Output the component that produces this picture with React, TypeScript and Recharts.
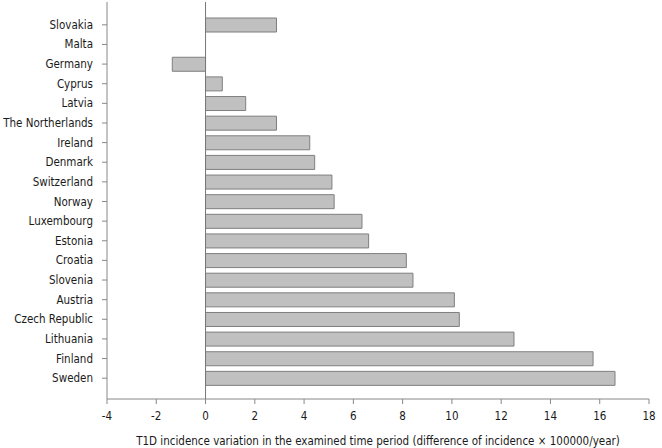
import { Bar, BarChart, ReferenceLine, XAxis, YAxis } from "recharts";

const countries = [
  "Slovakia",
  "Malta",
  "Germany",
  "Cyprus",
  "Latvia",
  "The Northerlands",
  "Ireland",
  "Denmark",
  "Switzerland",
  "Norway",
  "Luxembourg",
  "Estonia",
  "Croatia",
  "Slovenia",
  "Austria",
  "Czech Republic",
  "Lithuania",
  "Finland",
  "Sweden",
];

const variation = [
  2.88, 0, -1.35, 0.68, 1.63, 2.88, 4.23, 4.43, 5.13, 5.22, 6.35, 6.62, 8.15,
  8.42, 10.1, 10.3, 12.52, 15.73, 16.62,
];

const xTicks = [-4, -2, 0, 2, 4, 6, 8, 10, 12, 14, 16, 18];

const axisLabel =
  "T1D incidence variation in the examined time period (difference of incidence × 100000/year)";

const data = countries.map((name, i) => ({ name, value: variation[i] }));

const font = {
  fill: "#1a1a1a",
  fontSize: 11.5,
  fontFamily: "'DejaVu Sans Condensed', 'DejaVu Sans'",
  fontStretch: "condensed" as const,
};

function CountryTick({ x, y, payload }: any) {
  return (
    <text x={x - 7} y={y} dy="0.35em" textAnchor="end" style={font}>
      {payload.value}
    </text>
  );
}

export default function App() {
  return (
    <div style={{ position: "absolute", left: 0, top: 0, background: "#fff" }}>
      <BarChart
        width={662}
        height={448}
        data={data}
        layout="vertical"
        margin={{ top: 2, right: 13, left: 0, bottom: 0 }}
        barSize={14}
      >
        <XAxis
          type="number"
          domain={[-4, 18]}
          ticks={xTicks}
          allowDataOverflow
          stroke="#888"
          tickSize={5}
          tickMargin={8}
          tick={font}
          height={49}
          label={{
            value: axisLabel,
            position: "insideBottom",
            offset: 3,
            style: font,
          }}
        />
        <YAxis
          type="category"
          dataKey="name"
          width={107}
          stroke="#888"
          tickSize={5}
          tick={<CountryTick />}
          interval={0}
          padding={{ top: 13, bottom: 11 }}
        />
        <ReferenceLine x={0} stroke="#777" />
        <Bar
          dataKey="value"
          fill="#c0c0c0"
          stroke="#7f7f7f"
          strokeWidth={1}
          isAnimationActive={false}
        />
      </BarChart>
    </div>
  );
}
